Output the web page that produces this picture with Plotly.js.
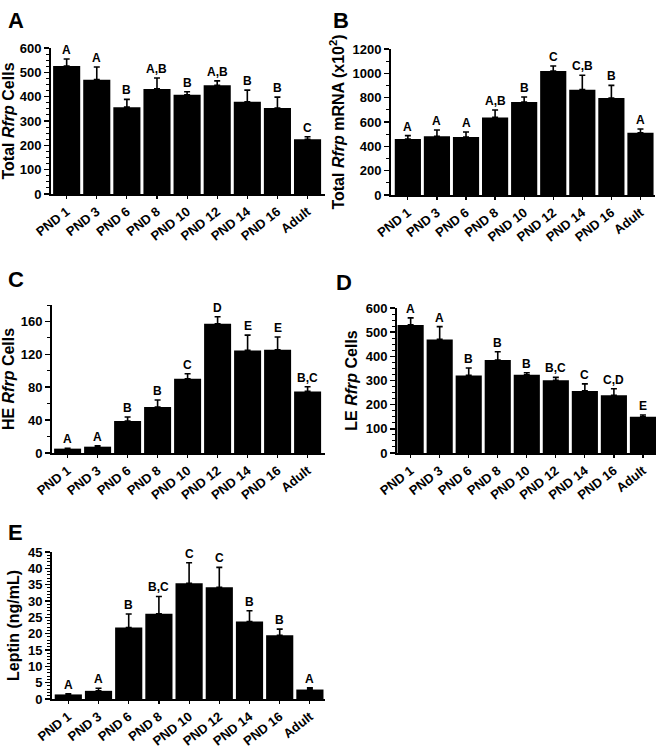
<!DOCTYPE html>
<html>
<head>
<meta charset="utf-8">
<script src="https://cdn.plot.ly/plotly-3.0.1.min.js"></script>
<style>
html,body{margin:0;padding:0;background:#fff;}
#chart{width:668px;height:750px;}
</style>
</head>
<body>
<div id="chart"></div>
<script>
const categories = ['PND 1','PND 3','PND 6','PND 8','PND 10','PND 12','PND 14','PND 16','Adult'];

const totalCells    = [526, 470, 357, 432, 408, 447, 379, 353, 225];
const totalCellsSE  = [29, 52, 32, 45, 12, 18, 48, 45, 10];
const totalCellsSig = ['A','A','B','A,B','B','A,B','B','B','C'];

const totalMrna    = [460, 482, 477, 638, 764, 1019, 866, 797, 512];
const totalMrnaSE  = [28, 52, 41, 61, 41, 41, 118, 104, 30];
const totalMrnaSig = ['A','A','A','A,B','B','C','C,B','B','A'];

const heCells    = [5.3, 7.7, 38.9, 55.9, 90.3, 157.2, 124.8, 125.6, 74.9];
const heCellsSE  = [0.5, 1.2, 4.8, 8.5, 6.1, 8.5, 18.6, 15.4, 5.7];
const heCellsSig = ['A','A','B','B','C','D','E','E','B,C'];

const leCells    = [530, 470, 321, 385, 324, 301, 257, 239, 150];
const leCellsSE  = [29, 53, 31, 34, 8, 12, 29, 27, 7];
const leCellsSig = ['A','A','B','B','B','B,C','C','C,D','E'];

const leptin    = [1.4, 2.5, 21.9, 26.1, 35.4, 34.2, 23.7, 19.5, 2.9];
const leptinSE  = [0.2, 0.8, 4.1, 5.3, 6.3, 6.1, 3.3, 1.9, 0.5];
const leptinSig = ['A','A','B','B,C','C','C','B','B','A'];

const panels = [
  {letter:'A', vals: totalCells, se: totalCellsSE, sig: totalCellsSig, title:'Total <i>Rfrp</i> Cells',
   xd:[51,325], yd:[48,194], yr:[0,600], dt:100, mdt:25, xr:[-0.52,8.58], lx:6, ly:6},
  {letter:'B', vals: totalMrna, se: totalMrnaSE, sig: totalMrnaSig, title:'Total <i>Rfrp</i> mRNA (x10<sup>2</sup>)',
   xd:[391,655], yd:[49,195], yr:[0,1200], dt:200, mdt:100, xr:[-0.58,8.5], lx:331, ly:6},
  {letter:'C', vals: heCells, se: heCellsSE, sig: heCellsSig, title:'HE <i>Rfrp</i> Cells',
   xd:[52,325], yd:[305,453], yr:[0,180], dt:40, mdt:20, xr:[-0.52,8.58], lx:6, ly:265},
  {letter:'D', vals: leCells, se: leCellsSE, sig: leCellsSig, title:'LE <i>Rfrp</i> Cells',
   xd:[397,656], yd:[308,453], yr:[0,600], dt:100, mdt:25, xr:[-0.47,8.45], lx:334, ly:268},
  {letter:'E', vals: leptin, se: leptinSE, sig: leptinSig, title:'Leptin (ng/mL)',
   xd:[52,325], yd:[552,699], yr:[0,45], dt:5, mdt:1, xr:[-0.54,8.5], lx:6, ly:518}
];

const W = 668, H = 750;
const FONT = 'Liberation Sans, Arial, sans-serif';
const data = [];
const layout = {
  width: W, height: H,
  margin: {l:0, r:0, t:0, b:0},
  paper_bgcolor: '#fff', plot_bgcolor: '#fff',
  showlegend: false,
  bargap: 0.1,
  font: {family: FONT, color: '#000'},
  annotations: []
};

panels.forEach((p, i) => {
  const n = i + 1;
  const xa = 'x' + (n === 1 ? '' : n), ya = 'y' + (n === 1 ? '' : n);
  const xk = 'xaxis' + (n === 1 ? '' : n), yk = 'yaxis' + (n === 1 ? '' : n);
  data.push({
    type: 'bar', x: categories, y: p.vals, xaxis: xa, yaxis: ya,
    marker: {color: '#000', line: {width: 0}},
    error_y: {type: 'data', symmetric: false, array: p.se, arrayminus: p.se.map(() => 0),
              color: '#000', thickness: 1.6, width: 3},
    hoverinfo: 'skip'
  });
  layout[xk] = {
    domain: [p.xd[0] / W, p.xd[1] / W],
    anchor: ya, type: 'category', range: p.xr,
    showline: true, linecolor: '#000', linewidth: 2,
    ticks: 'outside', ticklen: 3, tickwidth: 1.2, tickcolor: '#000',
    tickangle: -38, showgrid: false, zeroline: false,
    tickfont: {family: FONT, size: 13, weight: 'bold', color: '#000'},
    fixedrange: true
  };
  layout[yk] = {
    domain: [1 - p.yd[1] / H, 1 - p.yd[0] / H],
    anchor: xa, range: p.yr, dtick: p.dt, tick0: 0,
    showline: true, linecolor: '#000', linewidth: 2,
    ticks: 'outside', ticklen: 5, tickwidth: 1.5, tickcolor: '#000',
    minor: {dtick: p.mdt, ticks: 'outside', ticklen: 3, tickwidth: 1, tickcolor: '#000', showgrid: false},
    showgrid: false, zeroline: false,
    tickfont: {family: FONT, size: 13, weight: 'bold', color: '#000'},
    title: {text: p.title, standoff: 4,
            font: {family: FONT, size: 16, weight: 'bold', color: '#000'}},
    fixedrange: true
  };
  p.sig.forEach((s, j) => {
    layout.annotations.push({
      xref: xa, yref: ya, x: categories[j], y: p.vals[j] + p.se[j],
      yanchor: 'bottom', xanchor: 'center', yshift: 0,
      text: s, showarrow: false,
      font: {family: FONT, size: 12, weight: 'bold', color: '#000'}
    });
  });
  layout.annotations.push({
    xref: 'paper', yref: 'paper', x: p.lx / W, y: 1 - p.ly / H,
    xanchor: 'left', yanchor: 'top', text: p.letter, showarrow: false,
    font: {family: FONT, size: 22, weight: 'bold', color: '#000'}
  });
});

Plotly.newPlot('chart', data, layout, {staticPlot: true});
</script>
</body>
</html>
